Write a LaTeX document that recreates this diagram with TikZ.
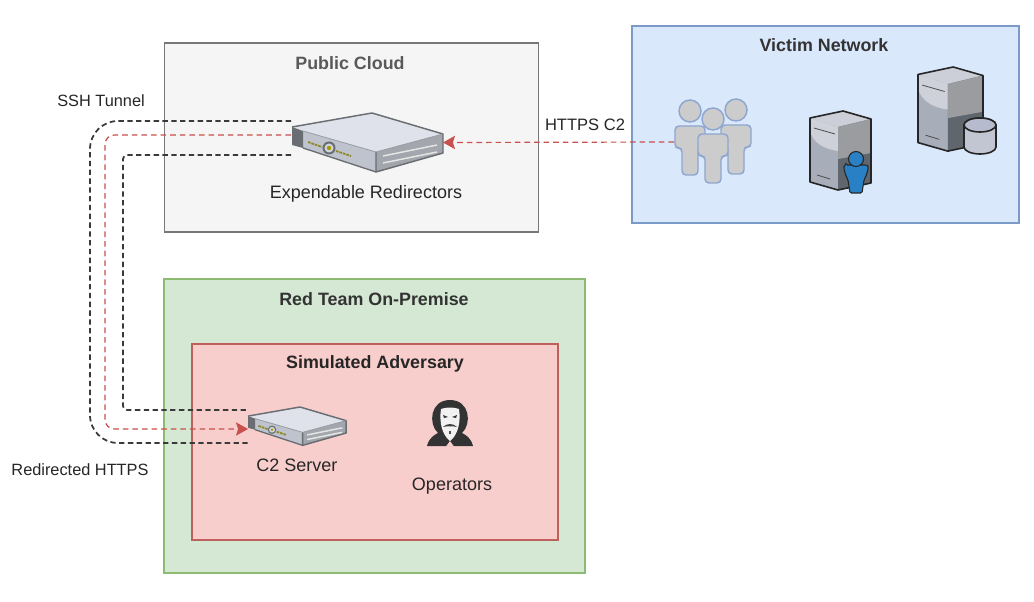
\documentclass[tikz,border=0pt]{standalone}
\usepackage{fontspec}
\setmainfont{Liberation Sans}
\usetikzlibrary{arrows.meta}
\definecolor{srvTop}{HTML}{DFE2EA}
\definecolor{srvFront}{HTML}{BEC3CD}
\definecolor{srvSide}{HTML}{A3A7AD}
\definecolor{srvEdge}{HTML}{6A6D72}
\definecolor{twTop}{HTML}{CCCED8}
\definecolor{twLeftA}{HTML}{CFD1DA}
\definecolor{twLeftB}{HTML}{A8AEB9}
\definecolor{twRightA}{HTML}{9A9C9F}
\definecolor{twRightB}{HTML}{5F666D}
\definecolor{tunnelBlack}{HTML}{3A3A3A}
\definecolor{tunnelRed}{HTML}{C9504C}
\definecolor{cloudFill}{HTML}{F5F5F5}
\definecolor{cloudLine}{HTML}{777777}
\definecolor{victimFill}{HTML}{DAE8FC}
\definecolor{victimLine}{HTML}{7A9AC8}
\definecolor{premiseFill}{HTML}{D5E8D4}
\definecolor{premiseLine}{HTML}{8DBB74}
\definecolor{advFill}{HTML}{F8CECC}
\definecolor{advLine}{HTML}{BE605C}
\definecolor{userLine}{HTML}{8EA6CF}
\definecolor{userFill}{HTML}{CCCCCC}
\definecolor{blueMan}{HTML}{2A80C4}
\definecolor{drum}{HTML}{C2C6D2}
\definecolor{drumTop}{HTML}{B6BCCD}
\tikzset{
  x=0.75pt,y=-0.75pt,
  zone/.style={draw=#1,line width=0.85pt,inner sep=0pt},
  title/.style={font=\bfseries\fontsize{13.4pt}{15pt}\selectfont,text=#1,inner sep=0pt},
  caption/.style={font=\fontsize{13.5pt}{15pt}\selectfont,text=black!85,inner sep=0pt},
  small/.style={font=\fontsize{12.25pt}{14pt}\selectfont,text=black!85,inner sep=0pt},
  anchorbox/.style={inner sep=0pt,outer sep=0pt},
  blacktunnel/.style={draw=tunnelBlack,line width=1.3pt,dash pattern=on 4pt off 2.6pt},
  redtunnel/.style={draw=tunnelRed,line width=0.9pt,dash pattern=on 4.2pt off 3pt,
    -{Stealth[length=9pt,width=10pt,inset=1.6pt]}},
  server/.pic={
    \fill[srvTop] (0,14)--(80,0)--(151,21)--(84,39)--(11,18)--cycle;
    \fill[srvFront] (11,18)--(84,39)--(84,59)--(11,35)--cycle;
    \fill[srvSide] (84,39)--(151,21)--(151,40)--(84,59)--cycle;
    \fill[srvEdge] (0,14)--(11,18)--(11,35)--(0,32)--cycle;
    \draw[srvEdge,line width=1.1pt,line join=round] (0,14)--(80,0)--(151,21)--(151,40)--(84,59)--(84,39);
    \draw[srvEdge!60!srvTop,line width=0.6pt] (11,18)--(84,39)--(151,21);
    \draw[srvEdge,line width=1pt] (11,35)--(84,59);
    \draw[white!90!black,line width=1.1pt] (91,43)--(145,32) (91,50)--(145,39);
    \fill[srvEdge] (37,35) circle (6.5);
    \fill[srvFront!70!white] (37,35) circle (4.5);
    \fill[olive!80!yellow] (37,35) circle (2.2);
    \draw[olive!70!gray,line width=1.4pt,dash pattern=on 2pt off .7pt] (16,29)--(30,34) (44,38)--(59,43);
  },
  tower/.pic={
    \fill[twTop] (0,7)--(33,0)--(61,8)--(28,16)--cycle;
    \fill[twLeftB] (0,7)--(28,16)--(28,79)--(0,71)--cycle;
    \fill[twLeftA] (0,7)--(28,16)--(28,40) .. controls (14,38) and (3,32) .. (0,20)--cycle;
    \fill[twRightB] (28,16)--(61,8)--(61,72)--(28,79)--cycle;
    \fill[twRightA] (28,16)--(61,8)--(61,42)--(28,48)--cycle;
    \draw[black!85,line width=1.2pt,line join=round] (0,7)--(33,0)--(61,8)--(61,72)--(28,79)--(0,71)--cycle;
    \draw[black!70,line width=0.6pt] (4,17)--(25,23) (7,64)--(20,68);
  },
  person/.pic={
    \draw[fill=userFill,draw=userLine,line width=1.1pt] (0,0) circle (11);
    \draw[fill=userFill,draw=userLine,line width=1.1pt,rounded corners=3pt]
      (-15,15)--(15,15)--(15,37)--(8,37)--(8,64)--(-8,64)--(-8,37)--(-15,37)--cycle;
  },
}
\begin{document}
\begin{tikzpicture}
\useasboundingbox (0,0) rectangle (1034,602);
\fill[white] (0,0) rectangle (1034,602);
% zones
\node[zone=cloudLine,fill=cloudFill,minimum width=281pt,minimum height=141.7pt] (cloud) at (351.5,137.5) {};
\node[zone=victimLine,fill=victimFill,minimum width=290.2pt,minimum height=147.7pt] (victim) at (825.5,124.5) {};
\node[zone=premiseLine,fill=premiseFill,minimum width=315.7pt,minimum height=220.5pt] (premise) at (374.5,426) {};
\node[zone=advLine,fill=advFill,minimum width=274.5pt,minimum height=147pt] (adversary) at (375,442) {};
% titles
\node[title=black!65] (tcloud) at (350,63) {Public Cloud};
\node[title=black!80] (tvictim) at (824,45) {Victim Network};
\node[title=black!80] (tpremise) at (374,299) {Red Team On-Premise};
\node[title=black!85] (tadv) at (375,364) {Simulated Adversary};
% icon anchors
\node[anchorbox,minimum width=113.25pt,minimum height=44.25pt] (redir) at (367.5,142.5) {};
\node[anchorbox,minimum width=73.5pt,minimum height=28.5pt] (c2) at (297,426) {};
\node[anchorbox,minimum width=57.75pt,minimum height=63.75pt] (users) at (712.5,142) {};
\coordinate (rTopEnd) at (291,121);
\coordinate (rMidEnd) at (291,135);
\coordinate (rLowEnd) at (291,155);
\coordinate (cInEnd) at (246,410);
\coordinate (cMidEnd) at (248,429);
\coordinate (cOutEnd) at (250,443);
% tunnels
\draw[blacktunnel,rounded corners=21pt] (rTopEnd) -- (90,121) -- (90,443) -- (cOutEnd);
\draw[blacktunnel,rounded corners=3pt] (rLowEnd) -- (123,155) -- (123,410) -- (cInEnd);
\draw[redtunnel,rounded corners=7pt] (rMidEnd) -- (105,135) -- (105,429) -- (cMidEnd);
\draw[redtunnel] (users.west) -- (redir.east);
% servers
\pic at (292,113) {server};
\pic[scale=.65] at (248,407) {server};
% users
\pic at (690,111) {person};
\pic at (736,110) {person};
\pic at (713,119) {person};
% tower with user
\pic at (810,111) {tower};
\fill[blueMan,draw=black!85,line width=0.8pt,rounded corners=1pt]
  (846,165) -- (866,165) .. controls (869,166) and (868,172) .. (864,180) -- (862,193) -- (850,193) -- (848,180) .. controls (844,172) and (843,166) .. (846,165) -- cycle;
\fill[blueMan,draw=black!85,line width=0.8pt] (856,159) circle (7.5);
% tower with database
\pic[scale=1.065] at (918,67) {tower};
\fill[drum,draw=black!85,line width=1.2pt]
  (964,125) arc[x radius=16,y radius=7,start angle=180,end angle=360] -- (996,147)
  arc[x radius=16,y radius=7,start angle=0,end angle=180] -- cycle;
\draw[black!85,line width=1.2pt,fill=drumTop] (980,125) ellipse (16 and 7);
% operator
\fill[black!80] (427,446) .. controls (429,438) and (434,435) .. (438,433)
  .. controls (428,424) and (430,400) .. (450,400)
  .. controls (470,400) and (472,424) .. (462,433)
  .. controls (466,435) and (471,438) .. (473,446) -- cycle;
\fill[black!5] (441,409) .. controls (446,407) and (454,407) .. (459,409)
  .. controls (461,422) and (458,435) .. (450,441) .. controls (442,435) and (439,422) .. (441,409) -- cycle;
\fill[black!80] (443,415) -- (448,417) -- (444,418) -- cycle (457,415) -- (452,417) -- (456,418) -- cycle;
\fill[black!75] (443,427) .. controls (447,423) and (453,423) .. (457,427) .. controls (453,426) and (447,426) .. (443,427) -- cycle;
\fill[black!70] (449,431) rectangle (451,434);
\fill[advFill] (446,446.5) -- (450,441) -- (454,446.5) -- cycle;
% labels
\node[caption] (lredir) at (366,193.5) {Expendable Redirectors};
\node[caption] (lc2) at (297,465.5) {C2 Server};
\node[caption] (lops) at (452,486.5) {Operators};
\node[small] (lssh) at (101,100.5) {SSH Tunnel};
\node[small] (lrhttps) at (80,469.5) {Redirected HTTPS};
\node[caption,font=\fontsize{12.4pt}{14pt}\selectfont] (lhttps) at (585,125) {HTTPS C2};
\end{tikzpicture}
\end{document}
